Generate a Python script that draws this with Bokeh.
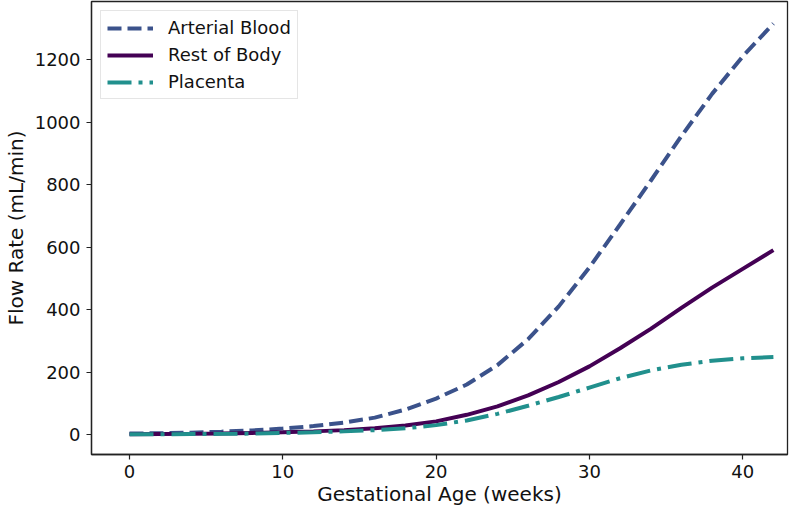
from bokeh.plotting import figure
from bokeh.models import Range1d, Legend, LegendItem, FixedTicker
from bokeh.embed import file_html
from bokeh.resources import INLINE

weeks = [0, 2, 4, 6, 8, 10, 12, 14, 16, 18, 20, 22, 24, 26, 28, 30, 32, 34, 36, 38, 40, 42]
arterial = [3, 4, 6, 9, 13, 19, 27, 38, 54, 80, 115, 160, 222, 305, 410, 535, 672, 812, 955, 1090, 1210, 1315]
rest_of_body = [1, 1.5, 2, 3, 5, 7, 10, 14, 20, 29, 42, 63, 90, 125, 168, 218, 276, 338, 405, 470, 530, 590]
placenta = [0.5, 1, 1.5, 2, 3, 5, 7, 10, 14, 20, 30, 45, 66, 92, 120, 150, 180, 205, 223, 236, 244, 248]
x_ticks = [0, 10, 20, 30, 40]
y_ticks = [0, 200, 400, 600, 800, 1000, 1200]

FONT = "DejaVu Sans"

p = figure(width=789, height=508, output_backend="svg", toolbar_location=None,
           x_range=Range1d(-2.48, 42.92), y_range=Range1d(-64, 1385.6),
           min_border_left=85, min_border_right=2, min_border_top=1, min_border_bottom=54)
p.background_fill_color = "white"
p.border_fill_color = "white"
p.outline_line_color = "#222222"
p.outline_line_width = 1.3
p.xgrid.visible = False
p.ygrid.visible = False

r1 = p.line(weeks, arterial, line_color="#3b528b", line_width=4, line_dash="14 6")
r2 = p.line(weeks, rest_of_body, line_color="#440154", line_width=4)
r3 = p.line(weeks, placenta, line_color="#21908d", line_width=4, line_dash="24 7 4 7")

for ax in (p.xaxis[0], p.yaxis[0]):
    ax.axis_line_color = "#222222"
    ax.axis_line_width = 1.3
    ax.major_tick_line_color = "#222222"
    ax.major_tick_line_width = 1.2
    ax.major_tick_out = 5
    ax.major_tick_in = 0
    ax.minor_tick_line_color = None
    ax.major_label_text_font = FONT
    ax.major_label_text_font_size = "18px"
    ax.major_label_text_color = "#111111"
    ax.axis_label_text_font = FONT
    ax.axis_label_text_font_size = "20px"
    ax.axis_label_text_font_style = "normal"
    ax.axis_label_text_color = "#111111"

p.xaxis[0].ticker = FixedTicker(ticks=x_ticks)
p.yaxis[0].ticker = FixedTicker(ticks=y_ticks)
p.xaxis[0].axis_label = "Gestational Age (weeks)"
p.yaxis[0].axis_label = "Flow Rate (mL/min)"
p.xaxis[0].major_label_standoff = 5
p.yaxis[0].major_label_standoff = 6
p.xaxis[0].axis_label_standoff = 1
p.yaxis[0].axis_label_standoff = 4

legend = Legend(items=[
    LegendItem(label="Arterial Blood", renderers=[r1]),
    LegendItem(label="Rest of Body", renderers=[r2]),
    LegendItem(label="Placenta", renderers=[r3]),
], location="top_left")
legend.margin = 9
legend.padding = 6
legend.spacing = 6
legend.glyph_width = 46
legend.glyph_height = 20
legend.label_height = 20
legend.label_standoff = 15
legend.label_text_font = FONT
legend.label_text_font_size = "18px"
legend.label_text_color = "#111111"
legend.border_line_color = "#cccccc"
legend.border_line_width = 1
legend.background_fill_alpha = 0.8
p.add_layout(legend)

open("out.html", "w").write(file_html(p, INLINE))
